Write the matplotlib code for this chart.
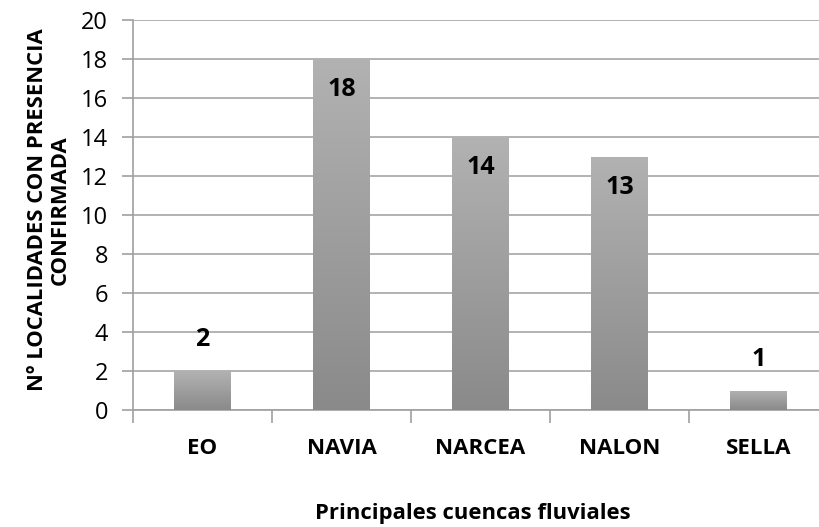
import matplotlib
matplotlib.use("Agg")
import matplotlib.pyplot as plt
import numpy as np
from matplotlib.ticker import FixedLocator, MultipleLocator
from matplotlib.colors import LinearSegmentedColormap

categories = ["EO", "NAVIA", "NARCEA", "NALON", "SELLA"]
values = [2, 18, 14, 13, 1]
y_label = "Nº LOCALIDADES CON PRESENCIA\nCONFIRMADA"
x_label = "Principales cuencas fluviales"

plt.rcParams['font.family'] = ['Open Sans', 'DejaVu Sans']

W, H = 820, 527
fig = plt.figure(figsize=(W / 100, H / 100), dpi=100)
ax = fig.add_axes([133 / W, (H - 410) / H, (828 - 133) / W, (410 - 20) / H])

x = np.arange(len(categories))
bars = ax.bar(x, values, width=0.41, facecolor='none', edgecolor='none', zorder=3)

grad = np.linspace(0, 1, 256).reshape(-1, 1)
cmap = LinearSegmentedColormap.from_list("g", ["#8a8a8a", "#b2b2b2"])
for b in bars:
    x0, y0 = b.get_x(), b.get_y()
    w, h = b.get_width(), b.get_height()
    im = ax.imshow(grad, extent=[x0, x0 + w, y0, y0 + h], origin='lower',
                   cmap=cmap, aspect='auto', zorder=3, interpolation='bilinear')
    im.set_clip_path(b)

ax.set_xlim(-0.5, len(categories) - 0.5)
ax.set_ylim(0, 20)
ax.yaxis.set_major_locator(MultipleLocator(2))
ax.grid(axis='y', color='#a6a6a6', linewidth=1.2, zorder=0)
ax.set_axisbelow(True)

for s in ['top', 'right']:
    ax.spines[s].set_visible(False)
for s in ['left', 'bottom']:
    ax.spines[s].set_color('#a0a0a0')
    ax.spines[s].set_linewidth(1.2)

ax.set_xticks(x)
ax.set_xticklabels(categories, fontsize=16, fontweight='bold')
ax.tick_params(axis='x', length=0, pad=20)
ax.xaxis.set_minor_locator(FixedLocator(np.arange(-0.5, len(categories), 1)))
ax.tick_params(axis='x', which='minor', length=9, color='#a0a0a0', width=1.2)
ax.tick_params(axis='y', labelsize=17, length=8, color='#a0a0a0', width=1.2, pad=10)

for xi, v in zip(x, values):
    off = -31 if v >= 5 else 31
    ax.annotate(str(v), (xi, v), xytext=(0, off), textcoords='offset pixels',
                ha='center', va='center', fontsize=18, fontweight='bold', zorder=5)

fig.text(48.5 / W, 1 - 210 / H, y_label, rotation=90, ha='center', va='center',
         fontsize=15.8, fontweight='bold', linespacing=1.1)
fig.text(473 / W, 1 - 513 / H, x_label, ha='center', va='center',
         fontsize=15.8, fontweight='bold')

fig.savefig("out.png", dpi=100)
